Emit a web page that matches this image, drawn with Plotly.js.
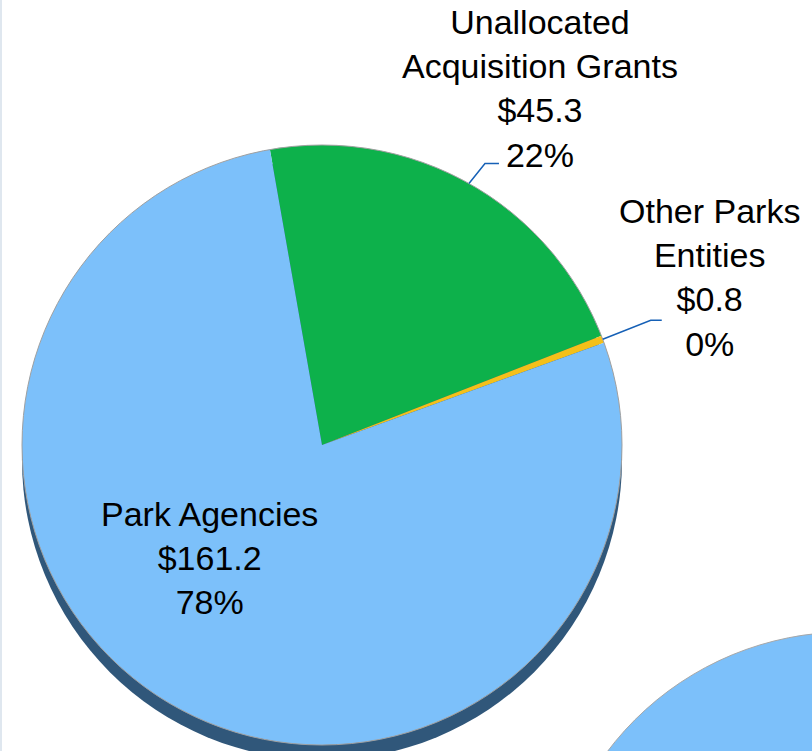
<!DOCTYPE html>
<html><head><meta charset="utf-8">
<script src="https://cdn.plot.ly/plotly-3.0.1.min.js"></script>
<style>html,body{margin:0;padding:0;background:#fff;} #chart{width:812px;height:751px;}</style>
</head><body><div id="chart"></div>
<script>
// ---- data ----
const categories = ['Unallocated<br>Acquisition Grants', 'Other Parks<br>Entities', 'Park Agencies'];
const values = [45.3, 0.8, 161.2];
const sliceColors = ['#0db14b', '#f4c01a', '#7cc0fa'];

// ---- layout geometry (pixels) ----
const W = 812, H = 751, CX = 322, CY = 445, R = 300, ROT = -10, DEPTH = 15;
const labelCenters = [[540, 88], [709, 277], [209, 558]];
const leaderElbow = [[16, -20, 14], [48, -19, 11], null];

const total = values.reduce((a, b) => a + b, 0);
const fmtMoney = v => '$' + v.toFixed(1);
const fmtPct = v => Math.round(v / total * 100) + '%';

const px = x => x / W, py = y => 1 - y / H;

// mid angles of slices (clockwise from top) derived from data
const mids = [];
let acc = ROT;
values.forEach(v => { const span = v / total * 360; mids.push(acc + span / 2); acc += span; });

const annotations = categories.map((c, i) => ({
  xref: 'paper', yref: 'paper',
  x: px(labelCenters[i][0]), y: py(labelCenters[i][1]),
  xanchor: 'center', yanchor: 'middle', align: 'center', showarrow: false,
  text: c + '<br>' + fmtMoney(values[i]) + '<br>' + fmtPct(values[i]),
  font: {family: 'Liberation Sans, Arial, sans-serif', size: 34, color: '#000'}
}));

const shapes = [
  {type: 'line', xref: 'paper', yref: 'paper', x0: px(1), x1: px(1), y0: 0, y1: 1,
   line: {color: '#dfe7ef', width: 2}, layer: 'below'},
  {type: 'circle', xref: 'paper', yref: 'paper',
   x0: px(CX - R), x1: px(CX + R), y0: py(CY + R + DEPTH), y1: py(CY - R + DEPTH),
   fillcolor: '#30577a', line: {width: 0}, layer: 'below'},
  {type: 'circle', xref: 'paper', yref: 'paper',
   x0: px(CX - R), x1: px(CX + R), y0: py(CY + R), y1: py(CY - R),
   fillcolor: 'rgba(0,0,0,0)', line: {color: '#a0a0a0', width: 1}, layer: 'above'},
  {type: 'circle', xref: 'paper', yref: 'paper',
   x0: px(847 - 300), x1: px(847 + 300), y0: py(932 + 300), y1: py(932 - 300),
   fillcolor: '#7cc0fa', line: {color: '#a8a8a8', width: 1}, layer: 'below'}
];

mids.forEach((a, i) => {
  const e = leaderElbow[i];
  if (!e) return;
  const rad = a * Math.PI / 180;
  const x0 = CX + R * Math.sin(rad), y0 = CY - R * Math.cos(rad);
  const x1 = x0 + e[0], y1 = y0 + e[1], x2 = x1 + e[2];
  shapes.push({type: 'path', xref: 'paper', yref: 'paper',
    path: `M ${px(x0)},${py(y0)} L ${px(x1)},${py(y1)} L ${px(x2)},${py(y1)}`,
    line: {color: '#1660b6', width: 1.5}, layer: 'above'});
});

const trace = {
  type: 'pie', labels: categories, values: values, sort: false,
  direction: 'clockwise', rotation: ROT, textinfo: 'none', hoverinfo: 'none',
  marker: {colors: sliceColors, line: {width: 0}},
  domain: {x: [px(CX - R), px(CX + R)], y: [py(CY + R), py(CY - R)]},
  showlegend: false
};

Plotly.newPlot('chart', [trace], {
  width: W, height: H, margin: {l: 0, r: 0, t: 0, b: 0},
  paper_bgcolor: '#ffffff', plot_bgcolor: '#ffffff',
  showlegend: false, annotations: annotations, shapes: shapes
}, {displayModeBar: false, staticPlot: true});
</script></body></html>
